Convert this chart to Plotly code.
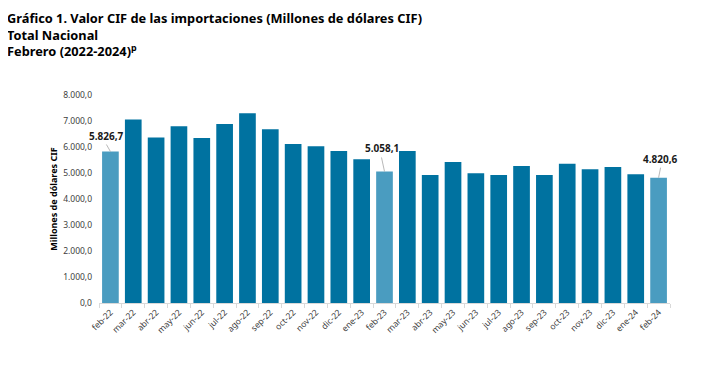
import plotly.graph_objects as go

categories = ["feb-22", "mar-22", "abr-22", "may-22", "jun-22", "jul-22", "ago-22", "sep-22",
              "oct-22", "nov-22", "dic-22", "ene-23", "feb-23", "mar-23", "abr-23", "may-23",
              "jun-23", "jul-23", "ago-23", "sep-23", "oct-23", "nov-23", "dic-23", "ene-24", "feb-24"]
values = [5826.7, 7060, 6370, 6795, 6345, 6885, 7295, 6680,
          6115, 6025, 5845, 5525, 5058.1, 5845, 4925, 5425,
          4990, 4925, 5270, 4925, 5355, 5140, 5230, 4950, 4820.6]
highlight = ["feb-22", "feb-23", "feb-24"]
y_ticks = [0, 1000, 2000, 3000, 4000, 5000, 6000, 7000, 8000]
title_lines = ["Gráfico 1. Valor CIF de las importaciones (Millones de dólares CIF)",
               "Total Nacional",
               "Febrero (2022-2024)<sup>p</sup>"]

DARK = "#0072A0"
LIGHT = "#4A9CC0"
colors = [LIGHT if c in highlight else DARK for c in categories]


def fmt(v):
    s = f"{v:,.1f}"
    return s.replace(",", "X").replace(".", ",").replace("X", ".")


fig = go.Figure(go.Bar(
    x=categories, y=values, marker=dict(color=colors, line=dict(width=0)),
    width=0.73, hoverinfo="x+y",
))

offsets = {"feb-22": (-4, -7), "feb-23": (-3, -14), "feb-24": (2, -10)}
for c, v in zip(categories, values):
    if c in highlight:
        ax, ay = offsets[c]
        fig.add_annotation(
            x=c, y=v, text=f"<b>{fmt(v)}</b>", showarrow=True, arrowhead=0,
            arrowwidth=0.8, arrowcolor="#A6A6A6", ax=ax, ay=ay,
            font=dict(size=10, color="#1a1a1a", family="Noto Sans"),
            yanchor="bottom", standoff=0,
        )

fig.add_annotation(
    x=-0.163, y=1.418, xref="paper", yref="paper", xanchor="left", yanchor="top",
    align="left", text="<b>" + "<br>".join(title_lines) + "</b>", showarrow=False,
    borderpad=0, font=dict(family="Noto Sans", size=12.8, color="#000000"),
)

fig.update_layout(
    width=701, height=369,
    margin=dict(l=91, r=39, t=87, b=74),
    paper_bgcolor="white", plot_bgcolor="white",
    separators=",.",
    showlegend=False,
    bargap=0.27,
    font=dict(family="Noto Sans", color="#595959"),
)

fig.update_xaxes(
    type="category", range=[-0.5, len(categories) - 0.5],
    tickangle=-45, tickfont=dict(size=8.5, color="#404040"),
    showline=True, linecolor="#D9D9D9", linewidth=1,
    ticks="outside", tickson="boundaries", ticklen=4, tickcolor="#D9D9D9",
    showgrid=False, fixedrange=True, automargin=False,
)
fig.update_yaxes(
    range=[0, 8000], tickvals=y_ticks, tickformat=",.1f",
    tickfont=dict(size=8.5, color="#404040"), ticklabelstandoff=6,
    showgrid=False, zeroline=False, showline=False,
    title=dict(text="<b>Millones de dólares CIF</b>", font=dict(size=9, color="#000000"), standoff=3),
    fixedrange=True, automargin=False,
)

fig.write_html("out.html")
